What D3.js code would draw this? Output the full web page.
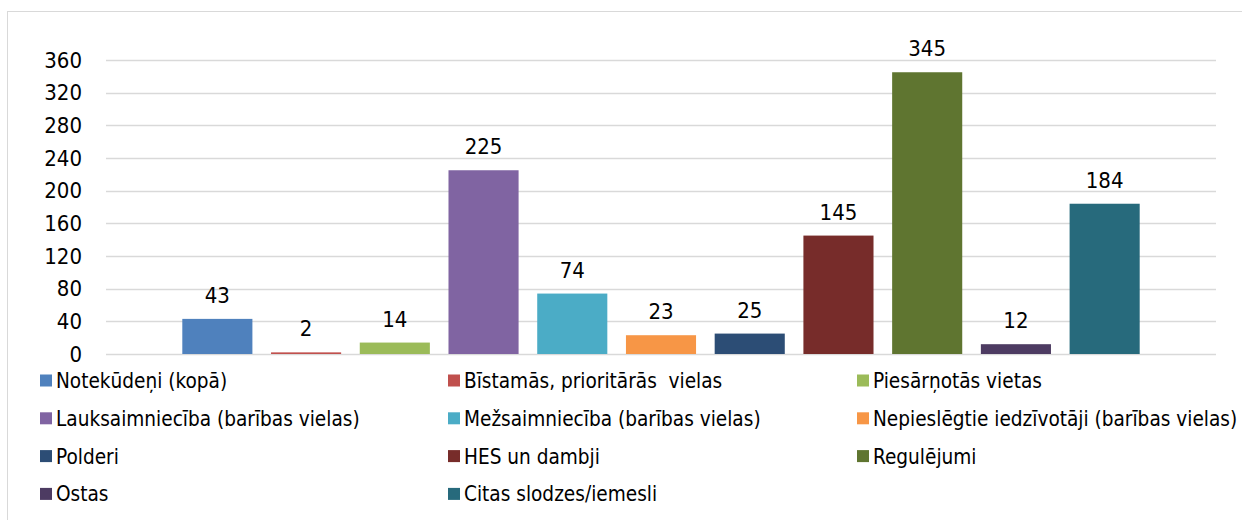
<!DOCTYPE html>
<html>
<head>
<meta charset="utf-8">
<script src="https://cdn.jsdelivr.net/npm/d3@7"></script>
<style>
  body { margin: 0; background: #fff; }
  svg { display: block; font-family: "DejaVu Sans Condensed", "DejaVu Sans", sans-serif; }
  .legend text { white-space: pre; }
</style>
</head>
<body>
<div id="chart-area"></div>
<script>
// slodzes / iemesli
var categories = [
    "Notekūdeņi (kopā)",
    "Bīstamās, prioritārās  vielas",
    "Piesārņotās vietas",
    "Lauksaimniecība (barības vielas)",
    "Mežsaimniecība (barības vielas)",
    "Nepieslēgtie iedzīvotāji (barības vielas)",
    "Polderi",
    "HES un dambji",
    "Regulējumi",
    "Ostas",
    "Citas slodzes/iemesli"
];
var values = [43, 2, 14, 225, 74, 23, 25, 145, 345, 12, 184];
var colors = ["#4F81BD", "#C0504D", "#9BBB59", "#8064A2", "#4BACC6", "#F79646",
              "#2C4D75", "#772C2A", "#5F7530", "#4D3B62", "#276A7C"];
var yTicks = [0, 40, 80, 120, 160, 200, 240, 280, 320, 360];

var W = 1242, H = 520;
var margin = { left:106, right:26, top:60, bottom:166 };
var width = W - margin.left - margin.right;
var height = H - margin.top - margin.bottom;

var svg = d3.select("#chart-area")
    .append("svg")
    .attr("width", W)
    .attr("height", H);

// chart border
svg.append("rect")
    .attr("x", 7.5).attr("y", 11.5)
    .attr("width", W + 10).attr("height", H + 10)
    .attr("fill", "none")
    .attr("stroke", "#d9d9d9")
    .attr("stroke-width", 1);

var g = svg.append("g")
    .attr("transform", "translate(" + margin.left + ", " + margin.top + ")");

var x = d3.scaleBand()
    .domain(categories)
    .range([0, width])
    .paddingInner(0.21)
    .paddingOuter(0.86);

var y = d3.scaleLinear()
    .domain([0, 360])
    .range([height, 0]);

// gridlines
g.append("g")
    .attr("class", "grid")
    .selectAll("line")
    .data(yTicks)
    .enter()
    .append("line")
    .attr("x1", 0)
    .attr("x2", width)
    .attr("y1", d => Math.round(y(d)) + 0.5)
    .attr("y2", d => Math.round(y(d)) + 0.5)
    .attr("stroke", "#d9d9d9")
    .attr("stroke-width", 1.5);

var yAxisCall = d3.axisLeft(y)
    .tickValues(yTicks)
    .tickSize(0)
    .tickPadding(24);
var yAxis = g.append("g")
    .attr("class", "y-axis")
    .call(yAxisCall);
yAxis.select(".domain").remove();
yAxis.selectAll("text")
    .attr("font-size", "22px")
    .attr("font-family", "\"DejaVu Sans Condensed\", \"DejaVu Sans\", sans-serif")
    .attr("fill", "#000");

g.selectAll("rect.bar")
    .data(values)
    .enter()
    .append("rect")
    .attr("class", "bar")
    .attr("x", (d, i) => x(categories[i]))
    .attr("y", d => y(d))
    .attr("width", x.bandwidth())
    .attr("height", d => height - y(d))
    .attr("fill", (d, i) => colors[i]);

g.selectAll("text.label")
    .data(values)
    .enter()
    .append("text")
    .attr("class", "label")
    .attr("x", (d, i) => x(categories[i]) + x.bandwidth() / 2)
    .attr("y", d => y(d) - 16)
    .attr("text-anchor", "middle")
    .attr("font-size", "22px")
    .attr("fill", "#000")
    .text(d => d);

// legend, 3 columns
var legX = [40, 448, 857];
var legY0 = 380.5, legStep = 37.8;
var leg = svg.append("g").attr("class", "legend");
var items = leg.selectAll("g")
    .data(categories)
    .enter()
    .append("g")
    .attr("transform", (d, i) => "translate(" + legX[i % 3] + "," + (legY0 + Math.floor(i / 3) * legStep) + ")");
items.append("rect")
    .attr("x", 0).attr("y", -6)
    .attr("width", 12).attr("height", 12)
    .attr("fill", (d, i) => colors[i]);
items.append("text")
    .attr("x", 16)
    .attr("y", 0)
    .attr("dy", "0.36em")
    .attr("font-size", "20.6px")
    .attr("fill", "#000")
    .text(d => d);
</script>
</body>
</html>
